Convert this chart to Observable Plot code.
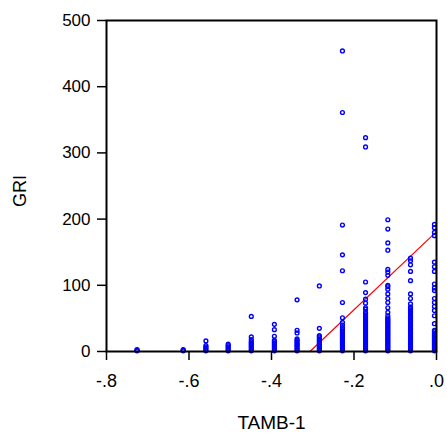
<!DOCTYPE html>
<html>
<head>
<meta charset="utf-8">
<script src="https://cdn.jsdelivr.net/npm/d3@7"></script>
<script src="https://cdn.jsdelivr.net/npm/@observablehq/plot@0.6"></script>
<style>
  html, body { margin: 0; padding: 0; background: #fff; }
</style>
</head>
<body>
<div id="chart"></div>
<script>
// TAMB-1 column positions
const tamb = [-0.726, -0.614, -0.559, -0.505, -0.449, -0.393, -0.338, -0.284, -0.228, -0.172, -0.118, -0.063, -0.005];

// GRI values observed in each column
const griCols = [
  [1, 2, 3],
  [1, 2, 3],
  [1, 3, 5, 7, 9, 16],
  [1, 3, 5, 7, 9, 11],
  [1, 3, 5, 7, 9, 11, 13, 15, 18, 22, 53],
  [1, 3, 5, 7, 9, 11, 13, 15, 17, 23, 33, 41],
  [1, 3, 5, 7, 9, 11, 13, 15, 17, 19, 28, 32, 78],
  [1, 3, 5, 7, 9, 11, 13, 15, 17, 19, 22, 24, 35, 99],
  [1, 3, 5, 7, 9, 11, 13, 15, 17, 19, 21, 23, 25, 27, 29, 31, 33, 36, 40, 44, 51, 74, 122, 146, 191, 361, 454],
  [1, 3, 5, 7, 9, 11, 13, 15, 17, 19, 21, 23, 25, 27, 29, 31, 33, 35, 37, 39, 41, 43, 45, 47, 49, 51, 53, 55, 57, 59, 64, 66, 73, 79, 89, 105, 309, 323],
  [1, 3, 5, 7, 9, 11, 13, 15, 17, 19, 21, 23, 25, 27, 29, 31, 33, 35, 37, 39, 41, 43, 45, 47, 49, 51, 54, 59, 66, 74, 80, 87, 94, 98, 100, 115, 120, 124, 153, 164, 185, 199],
  [1, 3, 5, 7, 9, 11, 13, 15, 17, 19, 21, 23, 25, 27, 29, 31, 33, 35, 37, 39, 41, 43, 45, 47, 49, 51, 53, 55, 57, 59, 61, 63, 65, 67, 72, 80, 87, 107, 121, 131, 137, 141],
  [1, 3, 5, 7, 9, 11, 13, 15, 17, 19, 21, 23, 25, 27, 30, 32, 42, 54, 62, 68, 74, 80, 92, 96, 102, 121, 128, 135, 175, 180, 187, 192]
];

// Linear fit line: GRI = intercept + slope * TAMB-1
const fitIntercept = 181;
const fitSlope = 590;

const xTicks = [-0.8, -0.6, -0.4, -0.2, 0];
const yTicks = [0, 100, 200, 300, 400, 500];
const xLabel = "TAMB-1";
const yLabel = "GRI";

const points = tamb.flatMap((x, i) => griCols[i].map(y => ({x, y})));
const fitLine = [-fitIntercept / fitSlope, 0].map(x => ({x, y: fitIntercept + fitSlope * x}));

const fmtX = d => d === 0 ? ".0" : d.toFixed(1).replace("0.", ".");

const chart = Plot.plot({
  width: 447,
  height: 434,
  marginLeft: 106,
  marginRight: 11,
  marginTop: 20,
  marginBottom: 83,
  style: {fontFamily: "'Liberation Sans', Arial, sans-serif", fontSize: "17px", color: "#000", background: "#fff"},
  x: {domain: [-0.8, 0]},
  y: {domain: [0, 500]},
  marks: [
    Plot.axisX({ticks: xTicks, tickFormat: fmtX, tickSize: 9, tickPadding: 14, label: null, fontSize: 18, strokeWidth: 1.5}),
    Plot.axisY({ticks: yTicks, tickSize: 9, tickPadding: 7, label: null, fontSize: 17, strokeWidth: 1.5}),
    Plot.line(fitLine, {x: "x", y: "y", stroke: "#ff0000", strokeWidth: 1.2}),
    Plot.dot(points, {x: "x", y: "y", r: 1.9, stroke: "#0000ff", strokeWidth: 1.4, fill: "none"}),
    Plot.frame({stroke: "#000", strokeWidth: 2}),
    Plot.text([xLabel], {frameAnchor: "bottom", dy: 71, lineAnchor: "middle", fontSize: 19, fill: "#000", style: "letter-spacing:0.5px"}),
    Plot.text([yLabel], {frameAnchor: "left", dx: -86, dy: 5, rotate: -90, lineAnchor: "middle", textAnchor: "middle", fontSize: 18, fill: "#000"})
  ]
});
document.getElementById("chart").appendChild(chart);
</script>
</body>
</html>
